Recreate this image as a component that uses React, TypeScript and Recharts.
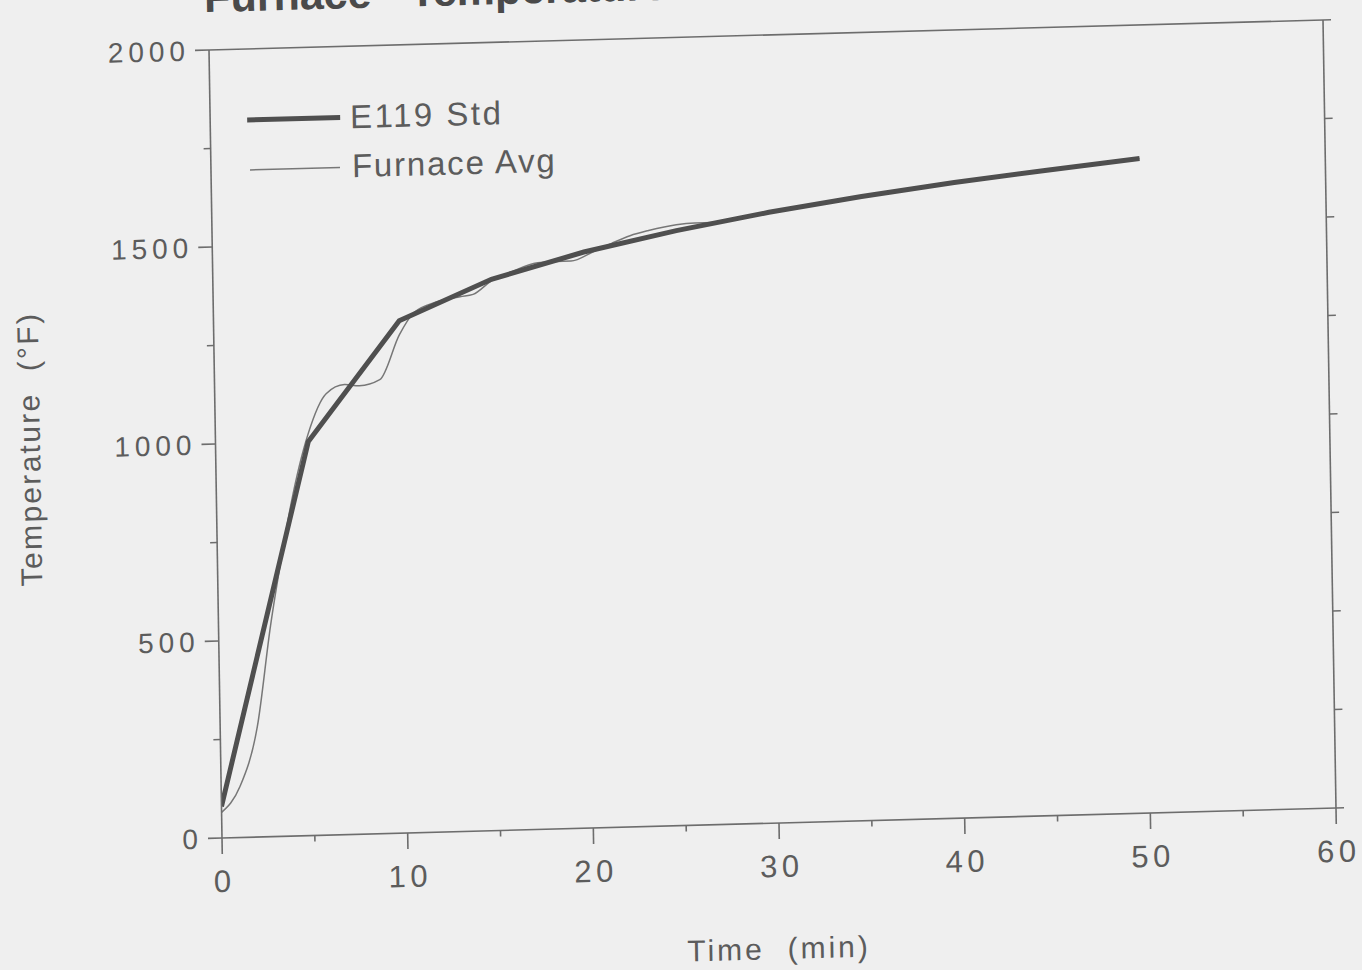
import React from 'react';
import { LineChart, Line, XAxis, YAxis, Legend } from 'recharts';

// ---- data ----
const timeTicks = [0, 5, 10, 15, 20, 25, 30, 35, 40, 45, 50, 55, 60];
const tempTicks = [0, 250, 500, 750, 1000, 1250, 1500, 1750, 2000];

const e119Time = [0, 5, 10, 15, 20, 25, 30, 35, 40, 45, 50];
const e119Temp = [80, 1000, 1300, 1399, 1462, 1510, 1550, 1584, 1613, 1638, 1661];

const furnaceTime = [0, 1, 2, 2.8, 3.5, 4, 5, 6, 7, 7.8, 8.9, 10, 10.8, 12, 13.3, 14, 15, 16, 17.5, 18.5, 19.3, 20.5, 21.5, 22.5, 23.5, 25, 26, 27, 30, 35, 40, 45, 50];
const furnaceTemp = [65, 128, 280, 535, 720, 840, 1020, 1120, 1142, 1138, 1152, 1265, 1320, 1345, 1357, 1362, 1395, 1415, 1438, 1440, 1440, 1462, 1482, 1500, 1512, 1525, 1528, 1528, 1550, 1584, 1613, 1638, 1661];

const e119Data = e119Time.map((t, i) => ({ t, v: e119Temp[i] }));
const furnaceData = furnaceTime.map((t, i) => ({ t, v: furnaceTemp[i] }));

// ---- styles ----
const AXIS = '#6d6d6d';
const TEXT = '#5c5c5c';
const FONT = '"Liberation Sans", Arial, Helvetica, sans-serif';

function BottomTick(props: any) {
  const { x, y, payload } = props;
  const major = payload.value % 10 === 0;
  return (
    <g>
      <line x1={x} x2={x} y1={y} y2={y + (major ? 16 : 6)} stroke={AXIS} strokeWidth={1.6} />
      {major && (
        <text x={x + 2} y={y + 54} textAnchor="middle" fontSize={31} letterSpacing={4.5} fill={TEXT} fontFamily={FONT}>
          {payload.value}
        </text>
      )}
    </g>
  );
}

function TopTick(props: any) {
  const { x, y, payload } = props;
  const major = payload.value % 10 === 0;
  return <line x1={x} x2={x} y1={y} y2={y - (major ? 15 : 7)} stroke={AXIS} strokeWidth={1.6} />;
}

function LeftTick(props: any) {
  const { x, y, payload } = props;
  const major = payload.value % 500 === 0;
  return (
    <g>
      <line x1={x} x2={x - (major ? 14 : 7)} y1={y} y2={y} stroke={AXIS} strokeWidth={1.6} />
      {major && (
        <text x={x - 19} y={y} dy="0.36em" textAnchor="end" fontSize={28} letterSpacing={5} fill={TEXT} fontFamily={FONT}>
          {payload.value}
        </text>
      )}
    </g>
  );
}

function RightTick(props: any) {
  const { x, y } = props;
  return <line x1={x} x2={x + 8} y1={y} y2={y} stroke={AXIS} strokeWidth={1.6} />;
}

function LegendBox() {
  return (
    <svg width={340} height={100} style={{ display: 'block' }}>
      <line x1={9} x2={102} y1={26} y2={26} stroke="#4f4f4f" strokeWidth={5} />
      <text x={112} y={37} fontSize={33} letterSpacing={2.5} fill={TEXT} fontFamily={FONT}>E119 Std</text>
      <line x1={11} x2={101} y1={76} y2={76} stroke="#777" strokeWidth={1.5} />
      <text x={113} y={86} fontSize={33} letterSpacing={1.8} fill={TEXT} fontFamily={FONT}>Furnace Avg</text>
    </svg>
  );
}

export default function App() {
  return (
    <div
      style={{
        position: 'fixed',
        left: 0,
        top: 0,
        width: 1362,
        height: 970,
        overflow: 'hidden',
        background: '#efefef',
        fontFamily: FONT,
      }}
    >
      <div
        style={{
          position: 'absolute',
          left: 0,
          top: 0,
          width: 1362,
          height: 1000,
          transformOrigin: '222px 838px',
          transform: 'matrix(1, -0.0269, 0.0165, 1, 0, 0)',
        }}
      >
        <div
          style={{
            position: 'absolute',
            left: 218,
            top: -24,
            fontSize: 43,
            lineHeight: '43px',
            fontWeight: 'bold',
            color: '#4a4a4a',
            whiteSpace: 'pre',
          }}
        >
          Furnace - Temperature
        </div>
        <LineChart
          width={1362}
          height={1000}
          margin={{ top: 30, right: 10, bottom: 62, left: 22 }}
        >
          <XAxis
            xAxisId="b"
            type="number"
            dataKey="t"
            domain={[0, 60]}
            ticks={timeTicks}
            interval={0}
            height={100}
            tickSize={0}
            tickMargin={0}
            tickLine={false}
            axisLine={{ stroke: AXIS, strokeWidth: 1.6 }}
            tick={BottomTick}
            allowDataOverflow
            label={{
              content: () => (
                <text x={777} y={974} textAnchor="middle" fontSize={30} letterSpacing={3} fill={TEXT} fontFamily={FONT} style={{ whiteSpace: 'pre' }}>
                  {'Time  (min)'}
                </text>
              ),
            }}
          />
          <XAxis
            xAxisId="t"
            orientation="top"
            type="number"
            domain={[0, 60]}
            ticks={timeTicks}
            interval={0}
            height={20}
            tickSize={0}
            tickMargin={0}
            tickLine={false}
            axisLine={{ stroke: AXIS, strokeWidth: 1.6 }}
            tick={TopTick}
            allowDataOverflow
          />
          <YAxis
            yAxisId="l"
            type="number"
            domain={[0, 2000]}
            ticks={tempTicks}
            interval={0}
            width={200}
            tickSize={0}
            tickMargin={0}
            tickLine={false}
            axisLine={{ stroke: AXIS, strokeWidth: 1.6 }}
            tick={LeftTick}
            allowDataOverflow
            label={{
              content: () => (
                <text
                  x={36}
                  y={444}
                  transform="rotate(-90 36 444)"
                  textAnchor="middle"
                  dominantBaseline="central"
                  fontSize={30}
                  letterSpacing={2.3}
                  fill={TEXT}
                  fontFamily={FONT}
                  style={{ whiteSpace: 'pre' }}
                >
                  {'Temperature  (°F)'}
                </text>
              ),
            }}
          />
          <YAxis
            yAxisId="r"
            orientation="right"
            type="number"
            domain={[0, 2000]}
            ticks={tempTicks}
            interval={0}
            width={16}
            tickSize={0}
            tickMargin={0}
            tickLine={false}
            axisLine={{ stroke: AXIS, strokeWidth: 1.6 }}
            tick={RightTick}
            allowDataOverflow
          />
          <Legend
            layout="vertical"
            align="center"
            verticalAlign="middle"
            wrapperStyle={{ left: 250, top: 95, width: 340, height: 100 }}
            content={() => <LegendBox />}
          />
          <Line
            xAxisId="b"
            yAxisId="l"
            data={furnaceData}
            dataKey="v"
            type="monotone"
            stroke="#777"
            strokeWidth={1.5}
            dot={false}
            isAnimationActive={false}
            name="Furnace Avg"
          />
          <Line
            xAxisId="b"
            yAxisId="l"
            data={e119Data}
            dataKey="v"
            type="linear"
            stroke="#4f4f4f"
            strokeWidth={5}
            dot={false}
            isAnimationActive={false}
            name="E119 Std"
          />
        </LineChart>
      </div>
    </div>
  );
}
